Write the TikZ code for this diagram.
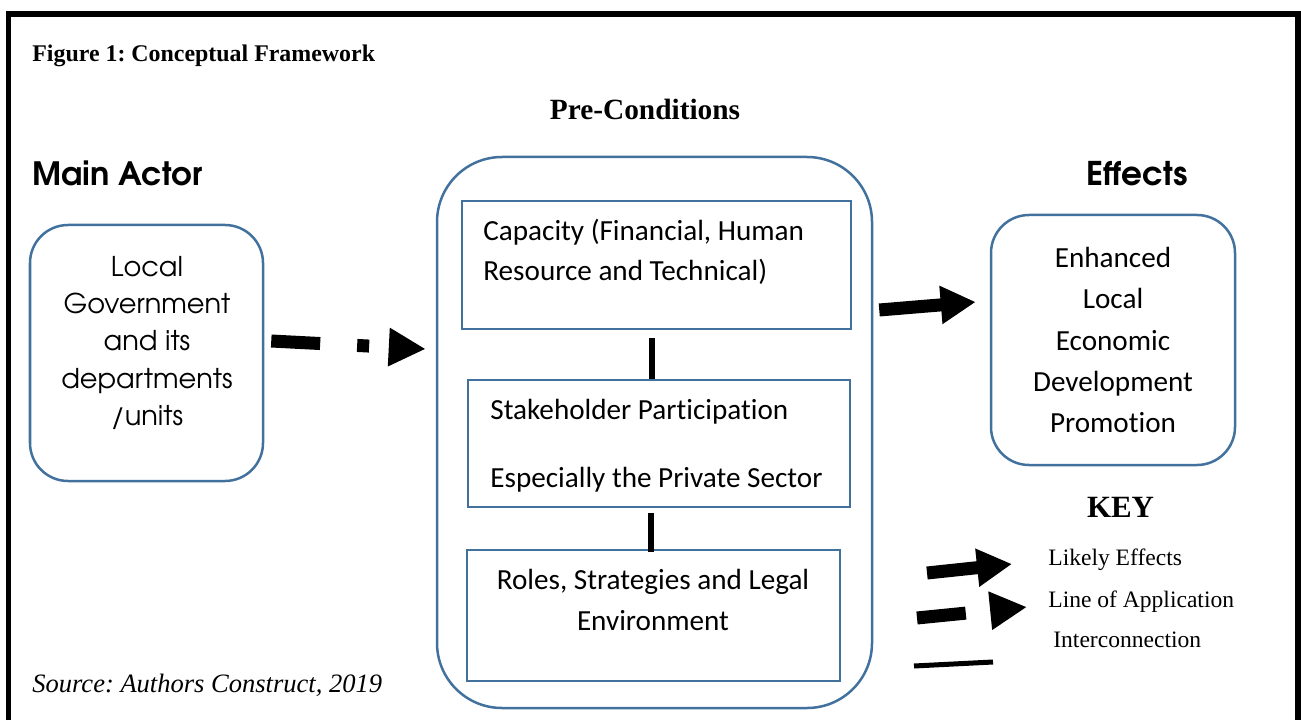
\documentclass[tikz,border=0pt]{standalone}
\usepackage{fontspec}
\setmainfont{Liberation Serif}
\newfontfamily\calibri{Carlito}[Ligatures=NoCommon]
\newfontfamily\gothic{texgyreadventor}[Extension=.otf, UprightFont=*-regular, BoldFont=*-bold]
\usepackage{tikz}
\usetikzlibrary{arrows.meta, calc}
\frenchspacing
\definecolor{boxblue}{RGB}{65,113,156}
\tikzstyle{roundbox} = [draw=boxblue, line width=0.05cm, rounded corners=0.76cm, inner sep=0]
\tikzstyle{squarebox} = [draw=boxblue, line width=0.05cm, inner sep=0]
\tikzstyle{boxtext} = [inner sep=0, font=\calibri\fontsize{16.6}{22.2}\selectfont]
\tikzstyle{link} = [line width=0.12cm]
\tikzstyle{effect} = [line width=0.26cm, -{Triangle[length=0.7cm,width=0.72cm]}]
\tikzstyle{apply} = [line width=0.26cm, -{Triangle[length=0.74cm,width=0.72cm]}]

\begin{document}
\begin{tikzpicture}
	\useasboundingbox (0,0) rectangle (26.02,14.4);
	\draw[line width=0.11cm] (0.17,0) -- (0.17,14.12) -- (25.96,14.12) -- (25.96,0);

	\node[anchor=base west, inner sep=0, font=\bfseries\fontsize{13.6}{16}\selectfont] (title) at (0.64,13.16) {Figure 1: Conceptual Framework};
	\node[anchor=base, inner sep=0, font=\bfseries\fontsize{16.7}{20}\selectfont] (prehead) at (12.9,12.0) {Pre-Conditions};
	\node[anchor=base west, inner sep=0, font=\gothic\bfseries\fontsize{18.3}{22}\selectfont] (actorhead) at (0.64,10.68) {Main Actor};
	\node[anchor=base, inner sep=0, font=\gothic\bfseries\fontsize{18.6}{22}\selectfont] (effecthead) at (22.74,10.68) {Effects};

	\node[roundbox, minimum width=4.66cm, minimum height=5.12cm] (actor) at (2.93,7.34) {};
	\node[anchor=north, align=center, inner sep=0, font=\gothic\fontsize{15.5}{21.2}\selectfont] (actortxt) at (2.94,9.28) {Local\\Government\\and its\\departments\\/units};

	\node[roundbox, rounded corners=1.3cm, minimum width=8.7cm, minimum height=11.02cm] (pre) at (13.09,5.75) {};
	\node[squarebox, minimum width=7.78cm, minimum height=2.56cm] (cap) at (13.13,9.1) {};
	\node[squarebox, minimum width=7.64cm, minimum height=2.54cm] (stake) at (13.18,5.53) {};
	\node[squarebox, minimum width=7.46cm, minimum height=2.62cm] (roles) at (13.07,2.09) {};
	\node[boxtext, anchor=north west, align=left, font=\calibri\fontsize{16.6}{22.8}\selectfont] (captxt) at (9.66,10.02) {Capacity (Financial, Human\\Resource and Technical)};
	\node[boxtext, anchor=north west, align=left] (staketxt) at (9.8,6.42) {Stakeholder Participation\\[16.5pt]Especially the Private Sector};
	\node[boxtext, anchor=north, align=center, font=\calibri\fontsize{16.6}{23.3}\selectfont] (rolestxt) at (13.06,3.03) {Roles, Strategies and Legal\\Environment};

	\node[roundbox, minimum width=4.88cm, minimum height=5cm] (effect) at (22.26,7.6) {};
	\node[boxtext, anchor=north, align=center, font=\calibri\fontsize{16.6}{23.6}\selectfont] (efftxt) at (22.26,9.47) {Enhanced\\Local\\Economic\\Development\\Promotion};

	\draw[link] ($(cap.south)+(-0.09,-0.16)$) -- ($(cap.south |- stake.north)+(-0.09,0)$);
	\draw[link] ($(stake.south)+(-0.16,-0.1)$) -- ($(stake.south |- roles.north)+(-0.16,-0.06)$);
	\draw[apply, dash pattern=on 0.98cm off 0.74cm on 0.24cm off 0.44cm] ($(actor.east)+(0.14,0.24)$) -- ($(actor.east -| pre.west)+(-0.2,0.08)$);
	\draw[effect] ($(pre.east |- effect.west)+(0.12,0.6)$) -- ($(effect.west)+(-0.28,0.76)$);

	\node[anchor=base, inner sep=0, font=\bfseries\fontsize{17.6}{21}\selectfont] (key) at (22.41,4.06) {KEY};
	\node[anchor=base west, inner sep=0, font=\fontsize{13.4}{16}\selectfont] (likely) at (20.96,3.1) {Likely Effects};
	\node[anchor=base west, inner sep=0, font=\fontsize{13.4}{16}\selectfont] (lineapp) at (20.96,2.26) {Line of Application};
	\node[anchor=base west, inner sep=0, font=\fontsize{13.4}{16}\selectfont] (inter) at (21.06,1.46) {Interconnection};
	\coordinate (likelyA) at (18.54,2.94);
	\coordinate (likelyB) at (20.24,3.12);
	\coordinate (lineappA) at (18.34,2.04);
	\coordinate (lineappB) at (20.54,2.26);
	\coordinate (interA) at (18.28,1.08);
	\coordinate (interB) at (19.86,1.16);
	\draw[effect] (likelyA) -- (likelyB);
	\draw[apply, dash pattern=on 0.98cm off 2cm] (lineappA) -- (lineappB);
	\draw[line width=0.1cm] (interA) -- (interB);

	\node[anchor=base west, inner sep=0, font=\itshape\fontsize{15.1}{18}\selectfont] (source) at (0.64,0.56) {Source: Authors Construct, 2019};
\end{tikzpicture}
\end{document}
